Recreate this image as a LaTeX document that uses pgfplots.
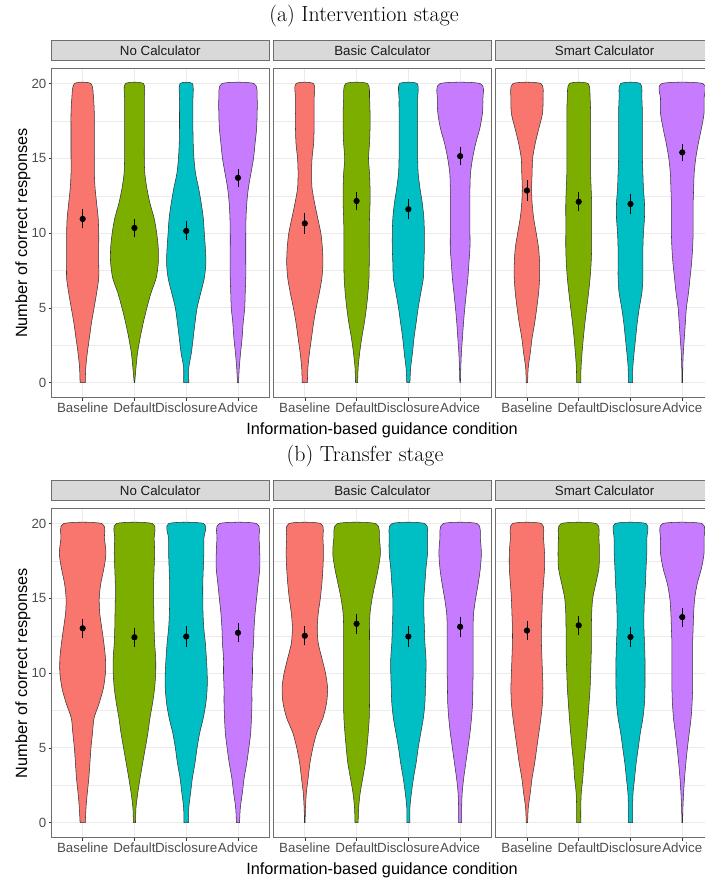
\documentclass[border=0pt]{standalone}
\usepackage{pgfplots}
\pgfplotsset{compat=1.18}
\usepackage{pgfplotstable}
\usepackage{fontspec}
\newfontfamily\sans{Liberation Sans}

\definecolor{vB}{HTML}{F8766D}
\definecolor{vD}{HTML}{7CAE00}
\definecolor{vS}{HTML}{00BFC4}
\definecolor{vA}{HTML}{C77CFF}
\definecolor{gridc}{HTML}{EBEBEB}
\definecolor{stripc}{HTML}{D9D9D9}
\definecolor{gtwenty}{HTML}{333333}
\definecolor{gthirty}{HTML}{4D4D4D}
\definecolor{gten}{HTML}{1A1A1A}
\definecolor{borderc}{HTML}{6E6E6E}

% half-widths of the violins (x units) at each y
\pgfplotstableread{
y B D S A
0 0.05 0.005 0.05 0.01
1 0.06 0.03 0.05 0.025
2 0.09 0.06 0.10 0.05
3 0.13 0.11 0.135 0.08
4 0.17 0.17 0.17 0.10
5 0.22 0.24 0.21 0.13
6 0.27 0.32 0.28 0.14
7 0.31 0.42 0.35 0.15
8 0.31 0.46 0.38 0.15
9 0.31 0.46 0.37 0.15
10 0.31 0.43 0.35 0.15
11 0.30 0.38 0.33 0.155
12 0.27 0.30 0.29 0.17
13 0.24 0.24 0.24 0.20
14 0.225 0.20 0.18 0.25
15 0.225 0.19 0.15 0.30
16 0.225 0.19 0.135 0.33
17 0.225 0.19 0.13 0.36
18 0.225 0.19 0.13 0.37
19 0.21 0.19 0.13 0.37
20 0.16 0.175 0.12 0.31
}\tAN
\pgfplotstableread{
y B D S A
0 0.05 0.02 0.03 0.006
1 0.06 0.03 0.045 0.013
2 0.09 0.06 0.08 0.025
3 0.13 0.10 0.11 0.045
4 0.17 0.15 0.15 0.065
5 0.22 0.19 0.19 0.09
6 0.28 0.22 0.24 0.12
7 0.33 0.24 0.29 0.15
8 0.35 0.245 0.30 0.17
9 0.34 0.245 0.31 0.19
10 0.31 0.245 0.31 0.19
11 0.25 0.25 0.30 0.19
12 0.19 0.26 0.27 0.19
13 0.14 0.26 0.225 0.19
14 0.13 0.25 0.19 0.20
15 0.14 0.23 0.18 0.24
16 0.17 0.25 0.18 0.30
17 0.18 0.26 0.18 0.38
18 0.18 0.26 0.18 0.43
19 0.18 0.25 0.18 0.44
20 0.17 0.21 0.17 0.39
}\tAB
\pgfplotstableread{
y B D S A
0 0.013 0.04 0.04 0.006
1 0.025 0.045 0.045 0.01
2 0.065 0.065 0.07 0.02
3 0.10 0.09 0.10 0.04
4 0.15 0.12 0.13 0.06
5 0.19 0.155 0.17 0.08
6 0.225 0.19 0.22 0.12
7 0.245 0.22 0.24 0.15
8 0.245 0.24 0.24 0.18
9 0.225 0.25 0.24 0.20
10 0.18 0.25 0.25 0.21
11 0.13 0.25 0.27 0.21
12 0.10 0.25 0.27 0.21
13 0.09 0.24 0.25 0.22
14 0.10 0.23 0.24 0.23
15 0.11 0.23 0.23 0.26
16 0.16 0.23 0.23 0.31
17 0.23 0.23 0.23 0.37
18 0.30 0.23 0.23 0.42
19 0.31 0.22 0.22 0.42
20 0.27 0.18 0.19 0.40
}\tAS
\pgfplotstableread{
y B D S A
0 0.05 0.02 0.045 0.03
1 0.065 0.03 0.05 0.045
2 0.09 0.065 0.085 0.085
3 0.12 0.11 0.12 0.12
4 0.14 0.16 0.17 0.17
5 0.16 0.21 0.21 0.21
6 0.19 0.26 0.26 0.245
7 0.22 0.30 0.33 0.26
8 0.32 0.35 0.38 0.27
9 0.40 0.39 0.405 0.27
10 0.44 0.41 0.405 0.28
11 0.44 0.41 0.39 0.28
12 0.41 0.39 0.37 0.30
13 0.37 0.38 0.34 0.31
14 0.33 0.375 0.325 0.33
15 0.32 0.37 0.32 0.36
16 0.35 0.37 0.32 0.39
17 0.41 0.38 0.33 0.42
18 0.45 0.39 0.34 0.42
19 0.42 0.38 0.34 0.405
20 0.37 0.35 0.34 0.36
}\tBN
\pgfplotstableread{
y B D S A
0 0.006 0.03 0.03 0.03
1 0.013 0.04 0.03 0.03
2 0.03 0.07 0.06 0.04
3 0.065 0.12 0.10 0.07
4 0.10 0.17 0.15 0.11
5 0.155 0.20 0.19 0.15
6 0.23 0.225 0.24 0.19
7 0.35 0.245 0.29 0.22
8 0.42 0.25 0.32 0.24
9 0.44 0.25 0.33 0.245
10 0.40 0.25 0.34 0.25
11 0.33 0.25 0.34 0.25
12 0.26 0.25 0.32 0.25
13 0.24 0.25 0.31 0.25
14 0.26 0.26 0.30 0.26
15 0.30 0.30 0.30 0.30
16 0.33 0.36 0.32 0.35
17 0.35 0.42 0.34 0.39
18 0.36 0.46 0.37 0.41
19 0.35 0.44 0.37 0.39
20 0.31 0.37 0.32 0.33
}\tBB
\pgfplotstableread{
y B D S A
0 0.013 0.04 0.04 0.006
1 0.026 0.04 0.04 0.013
2 0.065 0.05 0.05 0.026
3 0.10 0.08 0.08 0.045
4 0.15 0.10 0.11 0.07
5 0.19 0.13 0.15 0.10
6 0.23 0.155 0.19 0.135
7 0.27 0.18 0.24 0.17
8 0.30 0.20 0.27 0.19
9 0.31 0.22 0.28 0.20
10 0.30 0.23 0.28 0.20
11 0.29 0.24 0.28 0.20
12 0.28 0.245 0.27 0.20
13 0.28 0.245 0.26 0.21
14 0.29 0.25 0.26 0.22
15 0.30 0.27 0.27 0.24
16 0.32 0.33 0.29 0.29
17 0.34 0.39 0.30 0.37
18 0.34 0.40 0.315 0.42
19 0.32 0.39 0.315 0.42
20 0.28 0.34 0.30 0.38
}\tBS

% append the rows in reverse order, so that one path runs up the right side and down the left
\newcommand{\closeloop}[1]{%
  \pgfplotstablesort[sort key=y, sort cmp=float >]{\tmprev}{#1}%
  \pgfplotstablevertcat{#1}{\tmprev}%
}
\closeloop{\tAN}\closeloop{\tAB}\closeloop{\tAS}
\closeloop{\tBN}\closeloop{\tBB}\closeloop{\tBS}

% one violin: #1 table, #2 column, #3 centre, #4 colour
\newcommand{\violin}[4]{%
  \addplot[fill=#4, draw=gtwenty, line width=0.4pt, smooth, tension=0.45, forget plot]
    table[x expr={#3+(2*(\coordindex<21)-1)*\thisrow{#2}}, y=y]{#1} -- cycle;
}
\newcommand{\fourviolins}[1]{%
  \violin{#1}{B}{1}{vB}
  \violin{#1}{D}{2}{vD}
  \violin{#1}{S}{3}{vS}
  \violin{#1}{A}{4}{vA}
}

\pgfplotsset{
  panel/.style={
    scale only axis, width=163.1pt, height=246.75pt,
    xmin=0.4, xmax=4.6, ymin=-1, ymax=21,
    xtick={1,2,3,4}, xticklabels={Baseline,Default,Disclosure,Advice},
    ytick={0,5,10,15,20}, minor ytick={2.5,7.5,12.5,17.5},
    grid=both,
    major grid style={color=gridc, line width=0.7pt},
    minor grid style={color=gridc, line width=0.35pt},
    axis line style={color=borderc, line width=0.6pt},
    tick align=outside, xtick pos=lower, ytick pos=left,
    major tick length=2.2pt, minor tick length=0pt,
    tick style={color=gtwenty, line width=0.4pt},
    /pgf/number format/assume math mode=true,
    tick label style={font=\sans\fontsize{10}{12}\selectfont, text=gthirty},
    xticklabel style={inner sep=1.5pt},
    yticklabel style={inner sep=1.5pt},
    title style={at={(0.5,1)}, anchor=south, yshift=0pt, draw=borderc, fill=stripc,
      line width=0.6pt, minimum width=163.1pt, minimum height=14.8pt, inner sep=0pt,
      font=\sans\fontsize{10}{12}\selectfont, text=gten},
    anchor=south west,
  },
  inner/.style={yticklabels={}, ytick style={draw=none}},
  means/.style={only marks, mark=*, mark size=2.1pt, black, forget plot,
    error bars/.cd, y dir=both, y explicit,
    error bar style={line width=0.55pt, black},
    error mark options={line width=0.55pt, mark size=1.5pt, black}},
}

\begin{document}
\begin{tikzpicture}

\node[font=\fontsize{16.4}{19}\selectfont] at (273pt,648.5pt) {(a) Intervention stage};
\node[font=\fontsize{16.4}{19}\selectfont] at (273.75pt,318.5pt) {(b) Transfer stage};

% ---------- (a) Intervention stage ----------
\begin{axis}[panel, at={(38.7pt,362.5pt)}, title={No Calculator}]
\fourviolins{\tAN}
\addplot[means] coordinates {(1,10.95) +- (0,0.5) (2,10.35) +- (0,0.45) (3,10.15) +- (0,0.5) (4,13.7) +- (0,0.45)};
\end{axis}
\begin{axis}[panel, inner, at={(205.3pt,362.5pt)}, title={Basic Calculator}]
\fourviolins{\tAB}
\addplot[means] coordinates {(1,10.65) +- (0,0.55) (2,12.15) +- (0,0.5) (3,11.6) +- (0,0.55) (4,15.15) +- (0,0.45)};
\end{axis}
\begin{axis}[panel, inner, at={(371.9pt,362.5pt)}, title={Smart Calculator}]
\fourviolins{\tAS}
\addplot[means] coordinates {(1,12.85) +- (0,0.55) (2,12.1) +- (0,0.5) (3,11.95) +- (0,0.55) (4,15.4) +- (0,0.45)};
\end{axis}

% ---------- (b) Transfer stage ----------
\begin{axis}[panel, at={(38.7pt,32.5pt)}, title={No Calculator}]
\fourviolins{\tBN}
\addplot[means] coordinates {(1,13.0) +- (0,0.5) (2,12.4) +- (0,0.5) (3,12.45) +- (0,0.55) (4,12.7) +- (0,0.5)};
\end{axis}
\begin{axis}[panel, inner, at={(205.3pt,32.5pt)}, title={Basic Calculator}]
\fourviolins{\tBB}
\addplot[means] coordinates {(1,12.5) +- (0,0.5) (2,13.3) +- (0,0.55) (3,12.45) +- (0,0.55) (4,13.1) +- (0,0.55)};
\end{axis}
\begin{axis}[panel, inner, at={(371.9pt,32.5pt)}, title={Smart Calculator}]
\fourviolins{\tBS}
\addplot[means] coordinates {(1,12.85) +- (0,0.5) (2,13.2) +- (0,0.5) (3,12.42) +- (0,0.55) (4,13.75) +- (0,0.5)};
\end{axis}

% axis titles
\node[font=\sans\fontsize{12.2}{14}\selectfont] at (286.5pt,338pt) {Information-based guidance condition};
\node[font=\sans\fontsize{12.2}{14}\selectfont] at (286.5pt,8.3pt) {Information-based guidance condition};
\node[font=\sans\fontsize{12.2}{14}\selectfont, rotate=90] at (17.25pt,486pt) {Number of correct responses};
\node[font=\sans\fontsize{12.2}{14}\selectfont, rotate=90] at (17.25pt,155.85pt) {Number of correct responses};

\pgfresetboundingbox
\useasboundingbox (0,0) rectangle (528pt,660.75pt);
\end{tikzpicture}
\end{document}
